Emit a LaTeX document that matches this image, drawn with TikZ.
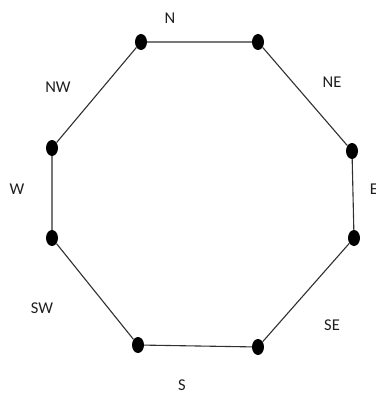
\documentclass[tikz,border=0pt]{standalone}
\usepackage{fontspec}
\setmainfont{Carlito}
\usetikzlibrary{shapes.geometric}
\definecolor{edgeGray}{HTML}{303030}
\definecolor{labelGray}{HTML}{1E1E1E}

\begin{document}
\begin{tikzpicture}[x=1pt, y=-1pt,
    vertex/.style={ellipse, fill=black, inner sep=0pt, minimum width=12pt, minimum height=16pt},
    dirlabel/.style={font=\fontsize{16.5}{18}\selectfont, text=labelGray, inner sep=0pt}]
  \useasboundingbox (0,0) rectangle (375,393);
  % corners of the octagon
  \foreach \x/\y [count=\i] in {141/42, 258/42, 352/151, 354/238, 258/347, 138/345, 52/238, 52/148}
    \node[vertex] (v\i) at (\x,\y) {};
  \draw[edgeGray, line width=1.1pt] (v1) -- (v2) -- (v3) -- (v4) -- (v5) -- (v6) -- (v7) -- (v8) -- (v1);
  % direction labels
  \foreach \t/\x/\y in {N/170/18, NE/332/82, E/374/189, SE/332/325, S/182/385, SW/42/308, W/17/189, NW/58/87}
    \node[dirlabel] (l\t) at (\x,\y) {\t};
\end{tikzpicture}
\end{document}
